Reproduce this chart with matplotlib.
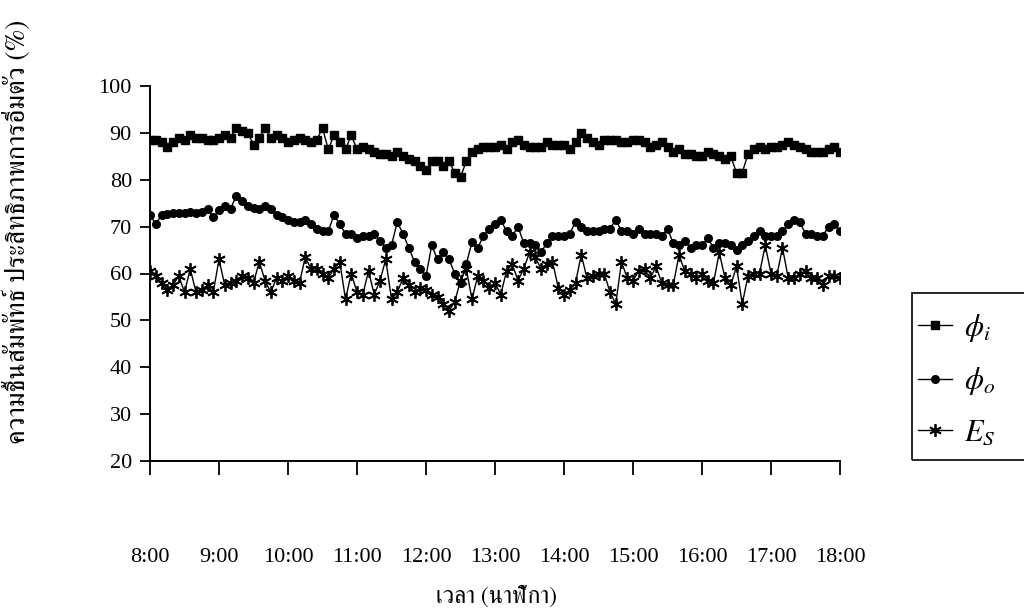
import numpy as np
import matplotlib
matplotlib.use('Agg')
import matplotlib.pyplot as plt
from matplotlib import font_manager
from matplotlib.ft2font import FT2Font
from matplotlib.patches import Rectangle

# data, one reading every 5 minutes from 8:00 to 18:00
phi_i = [88.5, 88.5, 88, 87, 88, 89, 88.5, 89.5, 89, 89, 88.5, 88.5, 89, 89.5, 89, 91, 90.5, 90, 87.5, 89,
         91, 89, 89.5, 89, 88, 88.5, 89, 88.5, 88, 88.5, 91, 86.5, 89.5, 88, 86.5, 89.5, 86.5, 87, 86.5, 86,
         85.5, 85.5, 85, 86, 85, 84.5, 84, 83, 82, 84, 84, 83, 84, 81.5, 80.5, 84, 86, 86.5, 87, 87,
         87, 87.5, 86.5, 88, 88.5, 87.5, 87, 87, 87, 88, 87.5, 87.5, 87.5, 86.5, 88, 90, 89, 88, 87.5, 88.5,
         88.5, 88.5, 88, 88, 88.5, 88.5, 88, 87, 87.5, 88, 87, 86, 86.5, 85.5, 85.5, 85, 85, 86, 85.5, 85,
         84.5, 85, 81.5, 81.5, 85.5, 86.5, 87, 86.5, 87, 87, 87.5, 88, 87.5, 87, 86.5, 86, 86, 86, 86.5, 87,
         86]
phi_o = [72.5, 70.5, 72.5, 72.8, 73, 73, 73, 73.2, 73, 73.2, 73.8, 72, 73.5, 74.5, 73.8, 76.5, 75.5, 74.5, 74, 73.8,
         74.3, 73.8, 72.5, 72, 71.5, 71, 71, 71.5, 70.5, 69.5, 69, 69, 72.5, 70.5, 68.5, 68.5, 67.5, 68, 68, 68.5,
         67, 65.5, 66, 71, 68.5, 65.5, 62.5, 61, 59.5, 66, 63, 64.5, 63, 60, 58, 62, 66.7, 65.5, 68, 69.5,
         70.5, 71.5, 69, 68, 70, 66.5, 66.5, 66, 64.5, 66.5, 68, 68, 68, 68.5, 71, 70, 69, 69, 69, 69.5,
         69.5, 71.5, 69, 69, 68.5, 69.5, 68.5, 68.5, 68.5, 68, 69.5, 66.5, 66, 67, 65.5, 66, 66, 67.5, 65.5, 66.5,
         66.5, 66, 65, 66, 67, 68, 69, 68, 68, 68, 69, 70.5, 71.5, 71, 68.5, 68.5, 68, 68, 70, 70.5,
         69]
e_s = [60.5, 59.5, 58, 56.5, 57.5, 59.5, 56, 61, 56, 56.5, 57.5, 56, 63, 57.5, 58, 58.5, 59.5, 59, 58, 62.5,
       58.5, 56, 59, 58.5, 59.5, 58.5, 58, 63.5, 61, 61, 60, 59, 61, 62.5, 54.5, 60, 56, 55.5, 60.5, 55.5,
       58.5, 63, 54.5, 56, 59, 57.5, 56, 57, 56.5, 55.5, 55, 53.6, 52, 54, 58.5, 61, 54.5, 59.5, 58.5, 57,
       58, 55.5, 60.5, 62, 58.5, 61, 64.5, 63.5, 61, 62, 62.5, 57, 55.5, 56.5, 58, 64, 59, 59.5, 60, 60,
       56, 53.5, 62.5, 59, 58.5, 60.5, 61, 59, 61.5, 58, 57.5, 57.5, 64, 60.5, 60, 59, 60, 58.5, 58, 64.5,
       59, 57.5, 61.5, 53.5, 59.5, 60, 60, 66, 60, 59.5, 65.5, 59, 59, 60, 60.5, 59, 59, 57.5, 59.5, 59.5,
       59]
hours = [8, 9, 10, 11, 12, 13, 14, 15, 16, 17, 18]
hour_labels = ['8:00', '9:00', '10:00', '11:00', '12:00', '13:00', '14:00', '15:00', '16:00', '17:00', '18:00']
series_names = [r'$\phi_i$', r'$\phi_o$', r'$E_S$']

t = 8 + np.arange(len(phi_i)) * 5 / 60


# find a font that has thai glyphs
def has_thai(path):
    try:
        f = FT2Font(path)
        return f.get_char_index(0x0E04) != 0
    except Exception:
        return False


cands = set()
for fe in font_manager.fontManager.ttflist:
    if fe.fname.lower().endswith(('.ttf', '.otf')) and has_thai(fe.fname):
        cands.add(fe.name)
thai_font = None
for pref in ['Norasi', 'Kinnari', 'FreeSerif', 'Garuda', 'Loma']:
    if pref in cands:
        thai_font = pref
        break
if thai_font is None and cands:
    thai_font = sorted(cands)[0]

plt.rcParams['font.family'] = 'Liberation Serif'
plt.rcParams['mathtext.fontset'] = 'stix'

fig = plt.figure(figsize=(10.24, 6.09), dpi=100)
ax = fig.add_axes([150 / 1024, 1 - 461 / 609, 690 / 1024, 375 / 609])

l1, = ax.plot(t, phi_i, color='black', lw=1, marker='s', ms=6, mec='black', mfc='black')
l2, = ax.plot(t, phi_o, color='black', lw=1, marker='o', ms=5.5, mec='black', mfc='black')
l3, = ax.plot(t, e_s, color='black', lw=1, marker=(6, 2, 0), ms=9, mew=1.3, mec='black')

ax.set_xlim(8, 18)
ax.set_ylim(20, 100)
ax.set_yticks(np.arange(20, 101, 10))
ax.set_xticks(hours)
ax.set_xticklabels(hour_labels)
for s in ['top', 'right']:
    ax.spines[s].set_visible(False)
for s in ['left', 'bottom']:
    ax.spines[s].set_linewidth(1.4)
ax.tick_params(axis='y', direction='out', length=7, width=1.3, labelsize=16, pad=6)
ax.tick_params(axis='x', direction='out', length=10, width=1.3, labelsize=16, pad=53)

tfam = [thai_font, 'DejaVu Sans'] if thai_font else ['DejaVu Sans']
fig.text(17 / 1024, 1 - 232 / 609, 'ความชื้นสัมพัทธ์ ประสิทธิภาพการอิ่มตัว (%)', rotation=90,
         ha='center', va='center', fontsize=19.5, family=tfam)
fig.text(497 / 1024, 1 - 597 / 609, 'เวลา (นาฬิกา)', ha='center', va='center', fontsize=17, family=tfam)

fig.patches.append(Rectangle((912 / 1024, 1 - 460 / 609), 0.2, 167 / 609, transform=fig.transFigure,
                             fill=False, edgecolor='black', lw=1.2, clip_on=False))
fig.legend([l1, l2, l3], series_names, loc='upper left', bbox_to_anchor=(918 / 1024, 1 - 312 / 609),
           frameon=False, fontsize=22, handlelength=1.1, labelspacing=0.7, handletextpad=0.4,
           borderpad=0, borderaxespad=0)

fig.savefig('out.png', dpi=100)
